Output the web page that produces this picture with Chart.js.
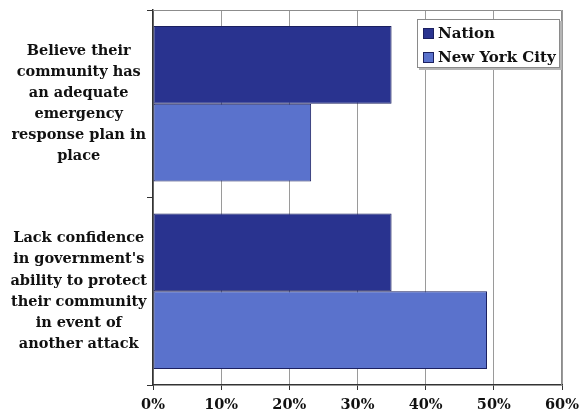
<!DOCTYPE html>
<html>
<head>
<meta charset="utf-8">
<script src="https://cdn.jsdelivr.net/npm/chart.js@4"></script>
<style>
  html, body { margin: 0; padding: 0; background: #fff; }
  #wrap { position: relative; width: 579px; height: 419px; }
  #legend {
    position: absolute; left: 417px; top: 19px; width: 141px; height: 47px;
    background: #fff; border: 1px solid #8a8a8a; box-shadow: 2px 2px 0 #b5b5b5;
    font: bold 15px 'DejaVu Serif', serif; color: #111;
  }
  .item { position: absolute; left: 5px; display: flex; align-items: center; }
  .sw { width: 9px; height: 9px; border: 1px solid #1b2060; margin-right: 4px; }
</style>
</head>
<body>
<div id="wrap">
  <canvas id="chart" width="579" height="419"></canvas>
  <div id="legend"></div>
</div>
<script>
// categories (multi-line labels) and values in percent
const categories = [
  ['Believe their', 'community has', 'an adequate', 'emergency', 'response plan in', 'place'],
  ['Lack confidence', "in government's", 'ability to protect', 'their community', 'in event of', 'another attack']
];
const seriesNames = ['Nation', 'New York City'];
const nationValues = [35, 35];
const nycValues = [23.2, 49];
const xMin = 0, xMax = 60, xStep = 10;

const colors = ['#29338f', '#5a72cc'];
const serif = 'DejaVu Serif';

// grey frame on top/right of the plot
const framePlugin = {
  id: 'frame',
  beforeDatasetsDraw(chart) {
    const { ctx, chartArea: a } = chart;
    ctx.save();
    ctx.strokeStyle = '#8c8c8c';
    ctx.lineWidth = 1;
    ctx.beginPath();
    ctx.moveTo(a.left, a.top + 0.5);
    ctx.lineTo(a.right - 0.5, a.top + 0.5);
    ctx.lineTo(a.right - 0.5, a.bottom);
    ctx.stroke();
    ctx.restore();
  }
};

const chart = new Chart(document.getElementById('chart'), {
  type: 'bar',
  data: {
    labels: categories,
    datasets: [
      { label: seriesNames[0], data: nationValues, backgroundColor: colors[0] },
      { label: seriesNames[1], data: nycValues, backgroundColor: colors[1] }
    ].map(d => Object.assign(d, {
      borderColor: '#1b2060', borderWidth: 1, borderSkipped: false,
      categoryPercentage: 0.83, barPercentage: 1.0
    }))
  },
  options: {
    indexAxis: 'y',
    responsive: false,
    animation: false,
    layout: { padding: { top: 10, right: 17, left: 0, bottom: 0 } },
    plugins: { legend: { display: false }, tooltip: { enabled: false } },
    scales: {
      x: {
        min: xMin, max: xMax,
        afterFit: s => { s.height = 34; s.paddingLeft = 0; s.paddingRight = 0; },
        ticks: {
          stepSize: xStep,
          callback: v => v + '%',
          color: '#111',
          padding: 7,
          maxRotation: 0,
          font: { family: serif, weight: 'bold', size: 14.5 }
        },
        grid: { color: '#9a9a9a', tickColor: '#333', tickLength: 5, lineWidth: 1 },
        border: { color: '#333', width: 1.5 }
      },
      y: {
        afterFit: s => { s.width = 153; s.paddingTop = 0; s.paddingBottom = 0; },
        ticks: {
          color: '#111',
          crossAlign: 'center',
          padding: 0,
          font: { family: serif, weight: 'bold', size: 14.5, lineHeight: 1.45 }
        },
        grid: { drawOnChartArea: false, tickLength: 6, color: '#333' },
        border: { color: '#333', width: 1.5 }
      }
    }
  },
  plugins: [framePlugin]
});

// legend built from the datasets
const legend = document.getElementById('legend');
chart.data.datasets.forEach((d, i) => {
  const it = document.createElement('div');
  it.className = 'item';
  it.style.top = (4 + i * 24) + 'px';
  it.innerHTML = '<span class="sw" style="background:' + d.backgroundColor + '"></span>' + d.label;
  legend.appendChild(it);
});
</script>
</body>
</html>
